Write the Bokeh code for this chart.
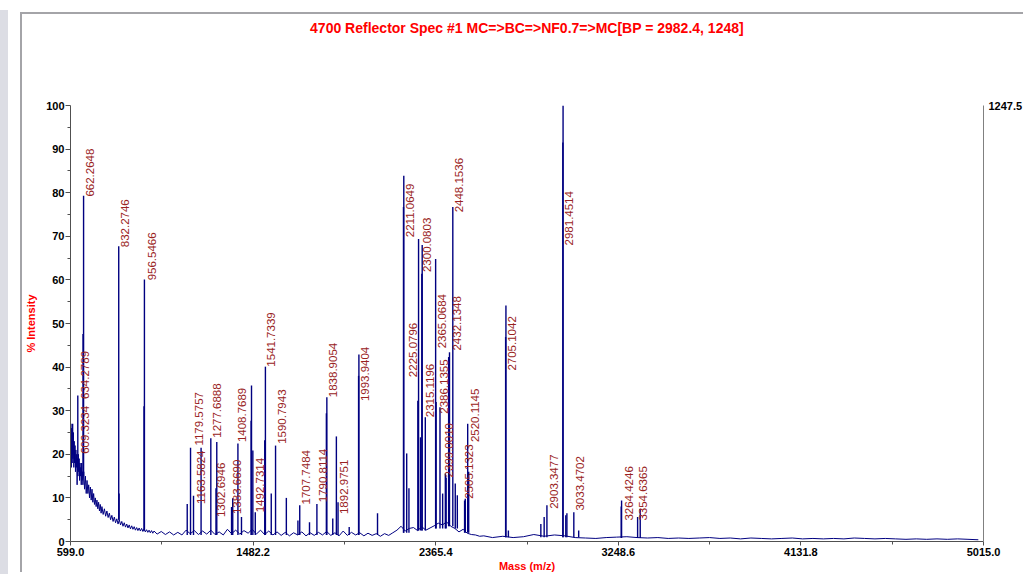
import math
from bokeh.plotting import figure
from bokeh.models import (Range1d, LinearAxis, FixedTicker, NumeralTickFormatter,
                          ColumnDataSource, Div, Title)
from bokeh.layouts import row
from bokeh.core.properties import value
from bokeh.embed import file_html
from bokeh.resources import INLINE

# ---------------- data ----------------
TITLE = "4700 Reflector Spec #1 MC=>BC=>NF0.7=>MC[BP = 2982.4, 1248]"
X_LABEL = "Mass (m/z)"
Y_LABEL = "% Intensity"
ABS_MAX = 1247.5

x_ticks = [599.0, 1482.2, 2365.4, 3248.6, 4131.8, 5015.0]
x_minor = [1040.6, 1923.8, 2807.0, 3690.2, 4573.4]
y_ticks = [0, 10, 20, 30, 40, 50, 60, 70, 80, 90, 100]
y_minor = [5, 15, 25, 35, 45, 55, 65, 75, 85, 95]

# noisy baseline
base_mz = [599, 601, 603, 605, 607, 609, 611, 613, 615, 617, 619, 621, 623, 625, 627, 629,
           631, 633, 635, 637, 639, 641, 643, 645, 647, 649, 651, 653, 655, 657, 659,
           663, 667, 671, 675, 679, 683, 687, 691, 695, 699, 703, 707, 711, 715, 719, 723,
           727, 731, 735, 739, 743, 747, 751,
           757, 763, 769, 775, 781, 787, 793, 799, 805, 811, 817, 823, 829, 835, 841, 847,
           853, 859, 865, 871, 877, 883, 889, 895, 901, 907, 913, 919, 925, 931, 937, 943,
           949, 955, 961, 967, 973, 979, 985, 991, 997, 1003,
           1018, 1038, 1058, 1078, 1098, 1118, 1138, 1158, 1178, 1198, 1218, 1238, 1258,
           1278, 1298, 1318, 1338, 1358, 1378, 1398, 1418, 1438, 1458, 1478, 1498, 1518,
           1538, 1558, 1578, 1598, 1618, 1638, 1658, 1678, 1698, 1718, 1738, 1758, 1778,
           1798, 1818, 1838, 1858, 1878, 1898, 1918, 1938, 1958, 1978, 1998, 2018, 2038,
           2058, 2078, 2098, 2118, 2138, 2158, 2178, 2198, 2218, 2238, 2258, 2278, 2298,
           2318, 2338, 2358, 2378, 2398, 2418, 2438, 2458, 2478, 2498, 2518, 2538, 2558,
           2578, 2598,
           2640, 2690, 2740, 2790, 2840, 2890, 2940, 2990, 3040, 3090, 3140, 3190, 3240,
           3290, 3340, 3390, 3440, 3490, 3540, 3590, 3640, 3690, 3740, 3790, 3840, 3890,
           3940, 3990, 4040, 4090, 4140, 4190, 4240, 4290, 4340, 4390, 4440, 4490, 4540,
           4590, 4640, 4690, 4740, 4790, 4840, 4890, 4940, 4990, 5015]
base_int = [22, 27, 17, 26, 18, 24, 19, 25, 17, 23, 18, 22, 16, 21, 17, 20,
            13, 19, 15, 20, 16, 19, 14, 18, 15, 17, 13, 18, 14, 16, 13,
            16, 12, 15, 11, 14, 11, 13, 10, 12.5, 9.5, 12, 9, 11, 8.5, 10,
            8, 9.5, 7.5, 9, 7, 8.5, 6.5,
            8, 6.2, 7.5, 5.8, 7, 5.5, 6.5, 5, 6, 4.6, 5.6, 4.3, 5.2, 4, 5, 3.8,
            4.6, 3.5, 4.3, 3.3, 4, 3.1, 3.8, 2.9, 3.6, 2.8, 3.4, 2.6, 3.2, 2.5, 3.1, 2.4,
            3, 2.3, 2.9, 2.2, 2.7, 2.1, 2.6, 2, 2.5, 1.9,
            2.4, 1.7, 2.3, 1.6, 2.2, 1.5, 2.1, 1.5, 2.6, 1.8, 2.5, 1.6, 2.4,
            1.7, 2.6, 1.6, 2.2, 1.5, 2.8, 1.8, 2.6, 1.7, 2.5, 1.9, 2.8, 1.7,
            2.6, 1.6, 2.4, 1.5, 2.2, 1.4, 2.1, 1.3, 2.0, 1.5, 2.2, 1.3, 2.0,
            1.4, 2.1, 1.5, 2.3, 1.4, 2.0, 1.3, 2.4, 1.4, 2.1, 1.5, 2.0, 1.3,
            1.9, 1.4, 1.8, 1.2, 1.8, 1.4, 2.0, 2.6, 3.5, 2.4, 3.0, 3.2, 2.5,
            3.4, 2.6, 3.1, 3.6, 4.2, 3.8, 4.5, 3.5, 3.0, 2.2, 2.8, 1.9, 1.6,
            1.5, 1.2,
            1.3, 0.9, 1.2, 0.9, 1.1, 1.6, 1.2, 1.5, 1.3, 0.9, 0.8, 0.7, 0.9,
            1.0, 1.1, 0.9, 0.8, 0.9, 0.7, 0.8, 0.7, 0.8, 0.9, 0.7, 0.8, 0.6,
            0.8, 0.7, 0.6, 0.7, 0.8, 0.6, 0.7, 0.6, 0.7, 0.6, 0.8, 0.7, 0.6,
            0.7, 0.6, 0.5, 0.6, 0.5, 0.6, 0.5, 0.6, 0.5, 0.4]

# peaks: m/z, top (% intensity), foot level
peak_mz = [609.3, 634.28, 659.6, 662.26, 832.27, 834.0, 954.6, 956.55,
           1163.58, 1179.58, 1194.0, 1230.6, 1277.69, 1302.69, 1306.5, 1378.0,
           1383.67, 1408.77, 1426.0, 1472.5, 1474.5, 1481.0, 1492.73, 1538.5,
           1541.73, 1570.0, 1590.79, 1643.0, 1699.0, 1707.75, 1755.0, 1790.81,
           1836.6, 1838.91, 1867.5, 1885.0, 1892.98, 1947.0, 1992.4, 1993.94,
           2084.0, 2209.6, 2211.06, 2225.08, 2236.0, 2279.0, 2282.5, 2292.0,
           2298.3, 2300.08, 2315.12, 2365.07, 2367.5, 2386.14, 2399.0, 2412.0,
           2416.0, 2428.0, 2432.13, 2448.15, 2460.0, 2470.0, 2505.13, 2508.5,
           2520.11, 2525.0, 2703.6, 2705.10, 2717.0, 2874.0, 2890.0, 2903.35,
           2980.4, 2981.45, 2994.6, 3000.0, 3033.47, 3057.0, 3262.8, 3264.42,
           3342.0, 3354.64]
peak_int = [27, 33.5, 47.6, 79.3, 67.7, 11, 31, 60.1,
            8.6, 21.5, 10.5, 21.5, 23.7, 12.2, 22.8, 7.9,
            9.9, 22.5, 5.6, 27.7, 35.8, 20.9, 6.7, 23.2,
            40.1, 11.0, 22.0, 10.0, 4.8, 8.3, 4.4, 8.6,
            29.4, 33.1, 5.3, 24.1, 9.0, 3.3, 38.0, 42.9,
            6.5, 76.7, 83.9, 20.2, 12.2, 32.3, 69.4, 23.9,
            61.4, 68.0, 28.5, 64.8, 32.0, 30.8, 11.0, 15.6,
            14.7, 42.3, 43.4, 76.7, 13.3, 10.6, 9.4, 9.8,
            27.0, 16.0, 46.9, 54.1, 2.5, 4.0, 5.6, 8.3,
            91.5, 100.0, 6.0, 6.5, 6.7, 2.5, 8.0, 9.4,
            5.6, 7.5]
peak_foot = [20, 18, 15, 15, 5, 5, 2.5, 2.5,
             1.5, 1.5, 1.5, 1.5, 1.5, 1.5, 1.5, 1.5,
             1.5, 1.5, 1.5, 1.5, 1.5, 1.5, 1.5, 1.5,
             1.5, 1.5, 1.5, 1.5, 1.5, 1.5, 1.5, 1.5,
             1.5, 1.5, 1.5, 1.5, 1.5, 1.5, 1.5, 1.5,
             1.5, 2, 2, 2, 2, 2.5, 2.5, 2.5,
             2.5, 2.5, 2.5, 3, 3, 3, 3, 3,
             3, 3.5, 3.5, 3.5, 3, 3, 2, 2,
             2, 2, 1, 1, 1, 1, 1, 1,
             1, 1, 1, 1, 1, 1, 0.8, 0.8,
             0.8, 0.8]

# peak annotations: text, anchor m/z, anchor height (bottom of the rotated text)
label_text = ["662.2648", "832.2746", "956.5466", "634.2789", "609.3234",
              "1179.5757", "1163.5824", "1277.6888", "1302.6946", "1383.6690",
              "1408.7689", "1492.7314", "1541.7339", "1590.7943", "1707.7484",
              "1790.8114", "1838.9054", "1892.9751", "1993.9404", "2211.0649",
              "2225.0796", "2300.0803", "2315.1196", "2365.0684", "2386.1355",
              "2399.0010", "2432.1348", "2448.1536", "2505.1323", "2520.1145",
              "2705.1042", "2903.3477", "2981.4514", "3033.4702", "3264.4246",
              "3354.6365"]
label_mz = [691.8, 865.0, 993.5, 668.0, 668.0,
            1222.0, 1229.0, 1307.7, 1327.0, 1405.5,
            1429.7, 1517.8, 1570.7, 1620.5, 1737.6,
            1819.0, 1869.0, 1920.4, 2021.4, 2239.0,
            2255.0, 2324.0, 2340.0, 2396.6, 2404.5,
            2428.5, 2468.7, 2480.0, 2525.0, 2557.0,
            2736.0, 2937.0, 3009.0, 3065.0, 3298.0,
            3366.5]
label_y = [79.1, 67.5, 59.9, 32.7, 20.1,
           22.0, 8.6, 23.8, 5.6, 6.3,
           22.8, 6.7, 40.1, 22.4, 8.5,
           9.0, 33.1, 6.3, 32.2, 69.8,
           37.7, 61.8, 28.5, 44.3, 29.3,
           14.7, 43.8, 75.5, 9.8, 22.8,
           39.2, 7.5, 67.9, 7.1, 4.8,
           4.8]

# ---------------- figure ----------------
FONT = "Liberation Sans"
BLUE = "#000080"

p = figure(width=1003, height=560, x_range=Range1d(599, 5015), y_range=Range1d(0, 100),
           output_backend="svg", toolbar_location=None,
           min_border_left=46, min_border_right=39, min_border_top=91, min_border_bottom=33,
           background_fill_color="white", border_fill_color="white")
p.margin = (12, 0, 0, 12)
p.styles = {"border-left": "2px solid #a4a4a8", "border-top": "2px solid #a4a4a8"}
p.outline_line_color = None
p.grid.visible = False
p.title.text = ""

# spacer (closest to the frame) then the real title above it
spacer = Title(text=" ", text_font_size="10px", standoff=56)
p.add_layout(spacer, "above")
main_title = Title(text=TITLE, align="center", text_color="#ff0000", text_font=FONT,
                   text_font_size="14px", text_font_style="bold", standoff=2)
p.add_layout(main_title, "above")

# axes
xa = p.xaxis[0]
xa.ticker = FixedTicker(ticks=x_ticks, minor_ticks=x_minor)
xa.formatter = NumeralTickFormatter(format="0.0")
xa.axis_label = X_LABEL
ya = p.yaxis[0]
ya.ticker = FixedTicker(ticks=y_ticks, minor_ticks=y_minor)
ya.axis_label = Y_LABEL
for ax in (xa, ya):
    ax.axis_line_color = "#505050"
    ax.major_tick_line_color = "#505050"
    ax.minor_tick_line_color = "#505050"
    ax.major_tick_in = 0
    ax.minor_tick_in = 0
    ax.major_label_text_font = FONT
    ax.major_label_text_font_size = "11px"
    ax.major_label_text_font_style = "bold"
    ax.major_label_text_color = "black"
    ax.axis_label_text_font = FONT
    ax.axis_label_text_font_size = "11px"
    ax.axis_label_text_font_style = "bold"
    ax.axis_label_text_color = "#ff0000"
xa.major_tick_out = 4
xa.minor_tick_out = 3
xa.major_label_standoff = 2
xa.axis_label_standoff = 1
ya.major_tick_out = 5
ya.minor_tick_out = 3
ya.major_label_standoff = 1
ya.axis_label_standoff = 6

p.extra_y_ranges = {"abs": Range1d(0, ABS_MAX)}
ra = LinearAxis(y_range_name="abs", ticker=FixedTicker(ticks=[ABS_MAX], minor_ticks=[]))
ra.axis_line_color = "#808080"
ra.major_tick_out = 0
ra.major_tick_in = 0
ra.minor_tick_out = 0
ra.minor_tick_in = 0
ra.major_label_standoff = 5
ra.major_label_text_font = FONT
ra.major_label_text_font_size = "11px"
ra.major_label_text_font_style = "bold"
ra.major_label_text_color = "black"
p.add_layout(ra, "right")

# spectrum
p.line(base_mz, base_int, line_color=BLUE, line_width=1)
psrc = ColumnDataSource(dict(x=peak_mz, y0=peak_foot, y1=peak_int))
p.segment(x0="x", y0="y0", x1="x", y1="y1", source=psrc, line_color=BLUE, line_width=1.4)

lsrc = ColumnDataSource(dict(x=label_mz, y=label_y, t=label_text))
p.text(x="x", y="y", text="t", source=lsrc, angle=math.pi / 2,
       text_align="left", text_baseline="middle",
       text_font=value(FONT), text_font_size="11.5px", text_color="#992222")

strip = Div(width=8, height=564, margin=(10, 0, 0, 0),
            styles={"background-color": "#dcdde4"})
layout = row(strip, p, margin=0, spacing=0)

open("out.html", "w").write(file_html(layout, INLINE))
